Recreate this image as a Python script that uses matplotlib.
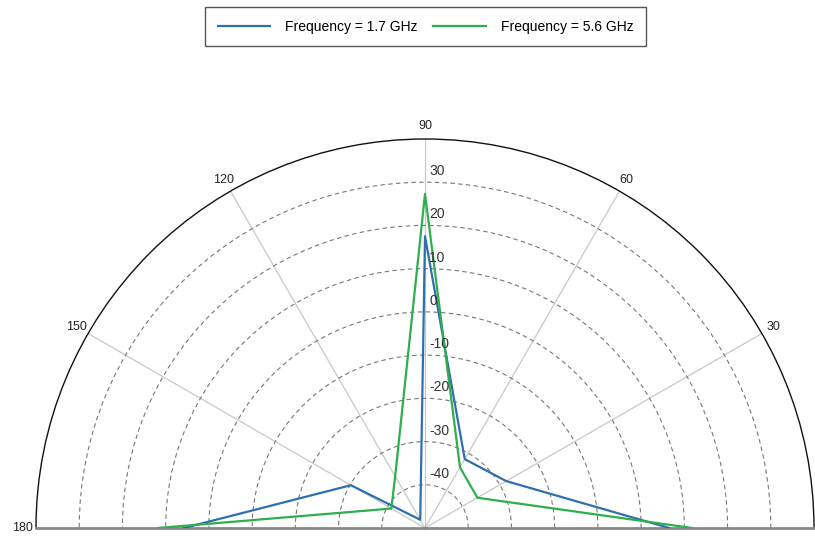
import numpy as np
import matplotlib
matplotlib.use("Agg")
import matplotlib.pyplot as plt

# ---- data ----
angles_deg = [0, 30, 60, 90, 120, 150, 180]
gain_1p7 = [6.5, -28.3, -31.6, 17.5, -47.8, -30.2, 5.8]
gain_5p6 = [11.8, -36.0, -33.8, 27.3, -36.2, -41.0, 11.8]
series_labels = ["Frequency = 1.7 GHz", "Frequency = 5.6 GHz"]
r_ticks = [-40, -30, -20, -10, 0, 10, 20, 30]
theta_ticks = [0, 30, 60, 90, 120, 150, 180]
theta_ticklabels = ["", "30", "60", "90", "120", "150", "180"]

plt.rcParams['font.family'] = ['Liberation Sans', 'DejaVu Sans']

W, H = 815, 536
fig = plt.figure(figsize=(W / 100, H / 100), dpi=100)

# desired half-disk: centre (cx, cy) from top-left, radius R (pixels)
cx, cy, R = 425, 528, 389
mid_y = H - (cy - R / 2)          # vertical middle of the half disk, from bottom
ax = fig.add_axes([(cx - 2 * R) / W, (mid_y - R) / H, 4 * R / W, 2 * R / H],
                  projection='polar')
ax.set_thetamin(0)
ax.set_thetamax(180)
ax.set_ylim(-50, 40)

th = np.deg2rad(angles_deg)
ax.plot(th, gain_1p7, color='#2f6fad', lw=1.6, label=series_labels[0], zorder=3)
ax.plot(th, gain_5p6, color='#2fae4e', lw=1.6, label=series_labels[1], zorder=3)

ax.set_xticks(np.deg2rad(theta_ticks))
ax.set_xticklabels(theta_ticklabels, fontsize=9, color='#222222')
ax.tick_params(axis='x', pad=-1)
ax.xaxis.grid(True, color='#c8c8c8', lw=0.9, ls='-')

ax.set_yticks(r_ticks)
ax.set_yticklabels([])
ax.yaxis.grid(True, color='#777777', lw=0.8, ls=(0, (4, 3)))

for v in r_ticks:
    ax.annotate(str(v), xy=(np.pi / 2, v), xytext=(3, 5), textcoords='offset points',
                ha='left', va='baseline', fontsize=10, color='#333333', zorder=4)

ax.spines['polar'].set_color('#111111')
ax.spines['polar'].set_linewidth(1.0)
for s in ('start', 'end'):
    ax.spines[s].set_color('#8a8a8a')
    ax.spines[s].set_linewidth(2.0)
ax.spines['inner'].set_visible(False)

leg = fig.legend(loc='upper center', bbox_to_anchor=(425.5 / W, 1 - 7 / H), ncol=2,
                 fontsize=10, handlelength=3.75, handletextpad=1.08, columnspacing=1.15,
                 fancybox=False, framealpha=1, edgecolor='#555555', borderpad=0.9,
                 borderaxespad=0)
leg.get_frame().set_linewidth(1.0)

fig.savefig('out.png', dpi=100)
